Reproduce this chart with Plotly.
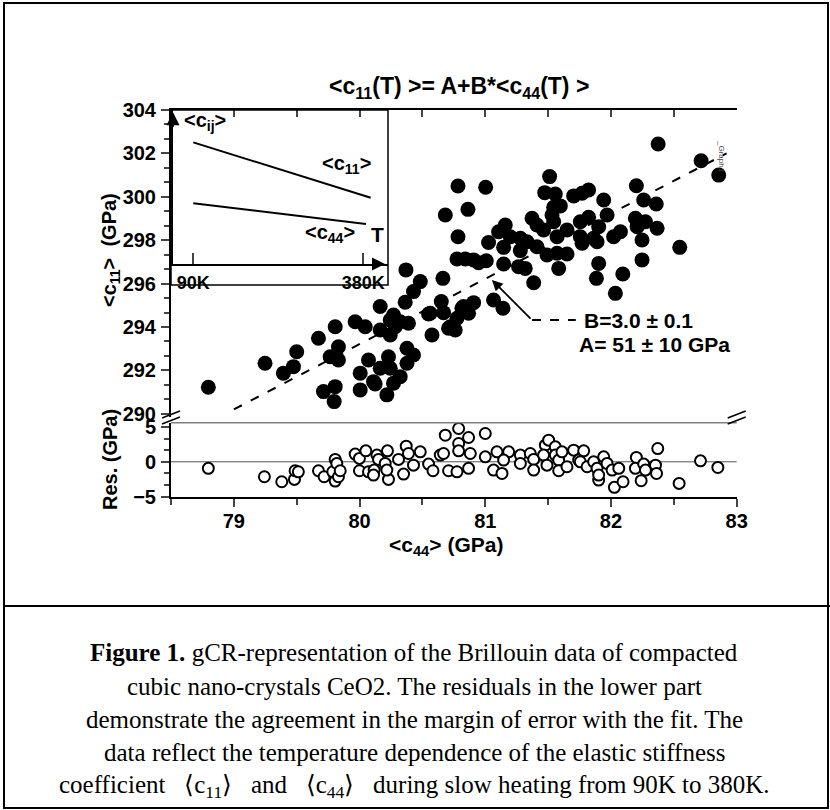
import plotly.graph_objects as go

W, H = 830, 810

# ---------------- data ----------------
c44_main = [82.375, 82.717, 82.857, 80.783, 81.003, 81.512, 82.202, 80.682, 80.862, 81.473,
            81.557, 81.703, 81.822, 81.770, 81.942, 82.260, 82.360, 80.783, 81.544, 81.597,
            81.531, 81.969, 81.544, 82.194, 82.274, 81.159, 81.372, 81.756, 81.822, 82.208,
            82.367, 81.106, 81.411, 81.464, 81.902, 82.075, 81.026, 81.199, 81.279, 81.332,
            81.571, 81.650, 81.756, 81.862, 82.021, 82.247, 81.770, 81.889, 81.146, 81.279,
            81.411, 81.491, 81.571, 81.650, 82.547, 80.775, 80.841, 80.907, 80.947, 81.008,
            81.146, 81.265, 81.318, 81.584, 81.902, 81.884, 82.247, 81.385, 82.094, 82.035,
            80.369, 80.663, 80.483, 80.429, 80.363, 80.650, 80.827, 80.907, 81.066, 81.141,
            80.270, 80.549, 80.668, 80.164,
            78.797, 79.248, 79.394, 79.474, 79.500, 79.673, 79.806, 79.766, 79.832, 79.832,
            79.713, 79.806, 79.798, 79.965, 80.045, 80.071, 80.005, 80.005, 80.111, 80.164,
            80.217, 80.244, 80.283, 80.244, 80.323, 80.389, 80.164, 80.230, 80.244, 80.377,
            80.429, 80.377, 80.323, 80.270, 80.576, 80.721, 80.775, 80.867, 80.761,
            80.814, 80.708, 80.124, 80.562]
c11_main = [302.43, 301.66, 301.00, 300.50, 300.44, 300.93, 300.51, 299.16, 299.42, 300.19,
            300.13, 300.04, 300.31, 300.16, 299.85, 299.85, 299.67, 298.16, 299.52, 299.58,
            299.16, 299.16, 298.85, 299.01, 298.85, 298.70, 299.01, 298.85, 299.06, 298.62,
            298.55, 298.39, 298.70, 298.47, 298.62, 298.39, 297.89, 298.16, 298.09, 297.93,
            298.16, 298.47, 298.16, 298.09, 298.16, 298.01, 297.86, 297.93, 297.67, 297.52,
            297.70, 297.32, 297.40, 297.36, 297.67, 297.13, 297.13, 297.09, 296.96, 297.05,
            296.90, 296.78, 296.70, 296.70, 296.93, 296.24, 297.09, 296.04, 296.44, 295.55,
            296.63, 296.24, 296.09, 295.63, 295.14, 295.17, 294.94, 295.12, 295.24, 294.86,
            294.55, 294.60, 294.66, 294.94,
            291.22, 292.33, 291.87, 292.17, 292.86, 293.48, 294.01, 292.63, 293.09, 292.48,
            291.02, 291.25, 290.56, 294.24, 294.01, 292.48, 291.87, 291.10, 291.48, 293.86,
            290.87, 294.32, 294.01, 293.63, 294.24, 294.17, 292.10, 292.63, 292.10, 293.02,
            292.71, 292.33, 291.71, 291.41, 293.63, 294.01, 294.40, 294.63, 293.86,
            294.86, 293.94, 291.37, 294.63]

c44_res = [78.797, 79.243, 79.381, 79.482, 79.487, 79.513, 79.673, 79.718, 79.787, 79.806,
           79.819, 79.806, 79.832, 79.846, 79.965, 79.999, 79.999, 80.050, 80.071, 80.116,
           80.111, 80.138, 80.151, 80.222, 80.204, 80.230, 80.217, 80.310, 80.371, 80.389,
           80.350, 80.429, 80.483, 80.549, 80.584, 80.642,
           80.668, 80.682, 80.708, 80.788, 80.788, 80.788, 80.775, 80.867, 80.881, 80.867,
           81.000, 81.000, 81.066, 81.133, 81.093, 81.186, 81.146, 81.279, 81.279, 81.358,
           81.385, 81.385, 81.478, 81.504, 81.464, 81.491, 81.557, 81.557, 81.584, 81.584,
           81.610, 81.650, 81.703, 81.743, 81.783, 81.756, 81.810, 81.862, 81.889, 81.902,
           81.902, 81.942, 81.969, 82.009, 82.062, 82.027, 82.096, 82.202, 82.194, 82.260,
           82.274, 82.240, 82.354, 82.362, 82.372, 82.542, 82.712, 82.850]
res_vals = [-0.94, -2.14, -2.86, -2.52, -1.28, -1.43, -1.28, -2.14, -1.43, 0.34,
            -0.24, -2.76, -2.14, -1.28, 1.10, 0.48, -1.28, 1.57, -1.43, -1.19,
            -1.90, 0.96, 0.34, 1.57, -0.24, -2.52, -1.19, 0.34, 2.24, 1.19,
            -1.76, -0.48, 1.43, -0.33, -1.28, 0.96,
            1.19, 3.81, -1.28, 4.77, 2.62, 1.57, -1.43, 3.48, 1.19, -0.94,
            4.05, 0.71, -1.19, -1.67, 1.43, 1.43, 0.24, 0.96, -0.24, 1.19,
            0.34, -1.19, 2.38, 3.10, 0.96, -0.48, 2.14, 0.96, 0.24, -1.28,
            1.43, -0.71, 1.67, 0.24, 1.57, 0.00, -0.71, 0.00, -0.94, -2.62,
            -1.90, 0.71, -0.24, -1.19, -0.94, -3.66, -2.86, 0.62, -0.94, -0.33,
            -1.19, -2.71, -0.48, -1.67, 1.90, -3.10, 0.14, -0.81]

fit_c44 = [79.0, 82.92]
fit_c11 = [290.2, 302.0]

inset_T = [90, 380]
inset_T_c11 = [90, 392.6]
inset_c11 = [0.790, 0.430]
inset_T_c44 = [90, 384.6]
inset_c44 = [0.394, 0.260]

x_range = [78.5, 83]
x_ticks = [79, 80, 81, 82, 83]
y_main_range = [289.85, 304]
y_main_ticks = [290, 292, 294, 296, 298, 300, 302, 304]
y_res_range = [-5, 5.6]
y_res_ticks = [-5, 0, 5]

# ---------------- layout helpers ----------------
def px(x):
    return x / W

def py(y):
    return 1 - y / H

FONT = "Liberation Sans, Arial, sans-serif"
SERIF = "Liberation Serif, Times New Roman, serif"
tickf = dict(family=FONT, size=20, color="black", weight="bold")

xd = [px(171), px(736.7)]
yd_main = [py(417), py(110)]
yd_res = [py(496.7), py(422.7)]

fig = go.Figure()

fig.add_trace(go.Scatter(x=c44_main, y=c11_main, mode="markers", xaxis="x", yaxis="y",
                         marker=dict(size=15, color="black", line=dict(width=0)),
                         showlegend=False, hoverinfo="skip"))
fig.add_trace(go.Scatter(x=fit_c44, y=fit_c11, mode="lines", xaxis="x", yaxis="y",
                         line=dict(color="black", width=2, dash="9px,10px"),
                         showlegend=False, hoverinfo="skip"))
fig.add_trace(go.Scatter(x=c44_res, y=res_vals, mode="markers", xaxis="x2", yaxis="y2",
                         marker=dict(size=11, color="white", line=dict(width=2, color="black")),
                         showlegend=False, hoverinfo="skip"))
fig.add_trace(go.Scatter(x=inset_T_c11, y=inset_c11, mode="lines", xaxis="x5", yaxis="y5",
                         line=dict(color="black", width=2), showlegend=False, hoverinfo="skip"))
fig.add_trace(go.Scatter(x=inset_T_c44, y=inset_c44, mode="lines", xaxis="x5", yaxis="y5",
                         line=dict(color="black", width=2), showlegend=False, hoverinfo="skip"))

common = dict(showgrid=False, zeroline=False, linecolor="black", automargin=False)

fig.update_layout(
    width=W, height=H,
    margin=dict(l=0, r=0, t=0, b=0, pad=0, autoexpand=False),
    paper_bgcolor="white", plot_bgcolor="rgba(0,0,0,0)",
    xaxis=dict(domain=xd, range=x_range, anchor="y", side="top", showline=True, linewidth=1.5,
               ticks="inside", ticklen=7, tickwidth=1.5, tickvals=x_ticks, showticklabels=False,
               minor=dict(ticks="inside", dtick=0.5, tick0=78.5, ticklen=7, tickwidth=1.5),
               **common),
    yaxis=dict(domain=yd_main, range=y_main_range, anchor="x", side="left", showline=True,
               linewidth=2, ticks="outside", ticklen=8, tickwidth=1.5, tickvals=y_main_ticks,
               tickfont=tickf, ticklabelstandoff=1,
               minor=dict(ticks="outside", dtick=2/3, tick0=290, ticklen=5, tickwidth=1.5),
               **common),
    yaxis3=dict(domain=yd_main, range=y_main_range, overlaying="y", anchor="x", side="right",
                showline=True, linewidth=1.5, ticks="inside", ticklen=8, tickwidth=1.5,
                tickvals=y_main_ticks, showticklabels=False,
                minor=dict(ticks="inside", dtick=2/3, tick0=290, ticklen=5, tickwidth=1.5),
                **common),
    xaxis2=dict(domain=xd, range=x_range, anchor="y2", side="bottom", showline=True, linewidth=2,
                ticks="outside", ticklen=8, tickwidth=1.5, tickvals=x_ticks, tickfont=tickf,
                ticklabelstandoff=-3,
                minor=dict(ticks="outside", dtick=0.5, tick0=78.5, ticklen=6, tickwidth=1.5),
                **common),
    yaxis2=dict(domain=yd_res, range=y_res_range, anchor="x2", side="left", showline=True,
                linewidth=2, ticks="outside", ticklen=8, tickwidth=1.5, tickvals=y_res_ticks,
                tickfont=tickf, ticklabelstandoff=1,
                minor=dict(ticks="outside", dtick=5/3, tick0=-5, ticklen=5, tickwidth=1.5),
                **common),
    yaxis4=dict(domain=yd_res, range=y_res_range, overlaying="y2", anchor="x2", side="right",
                showline=True, linewidth=1.5, ticks="inside", ticklen=8, tickwidth=1.5,
                tickvals=y_res_ticks, showticklabels=False,
                minor=dict(ticks="inside", dtick=5/3, tick0=-5, ticklen=5, tickwidth=1.5),
                **common),
    xaxis5=dict(domain=[px(173), px(388)], range=[55.4, 422.1], anchor="y5", showline=True,
                linewidth=2, ticks="inside", ticklen=11, tickwidth=1.5, tickvals=inset_T,
                ticktext=["90K", "380K"], ticklabelstandoff=1,
                tickfont=dict(family=FONT, size=18, color="black", weight="bold"),
                **common),
    yaxis5=dict(domain=[py(264), py(110)], range=[0, 1], anchor="x5", showline=True, linewidth=2,
                showticklabels=False, ticks="", **common),
)

shapes = []
shapes.append(dict(type="rect", xref="paper", yref="paper", x0=px(171), x1=px(388), y0=py(285), y1=py(110),
                   line=dict(color="black", width=1.5), layer="above"))
shapes.append(dict(type="line", xref="paper", yref="paper", x0=xd[0], x1=xd[1], y0=yd_res[1], y1=yd_res[1],
                   line=dict(color="#808080", width=1.5)))
shapes.append(dict(type="line", xref="x2 domain", yref="y2", x0=0, x1=1, y0=0, y1=0,
                   line=dict(color="#555555", width=1), layer="below"))
for xc in (171, 736.7):
    for dy in (0, 6):
        shapes.append(dict(type="line", xref="paper", yref="paper",
                           x0=px(xc - 9), y0=py(418 + dy), x1=px(xc + 9), y1=py(411 + dy),
                           line=dict(color="black", width=1.5)))
shapes.append(dict(type="line", xref="x", yref="y", x0=81.372, x1=81.72, y0=294.32, y1=294.32,
                   line=dict(color="black", width=2, dash="9px,9px")))
shapes.append(dict(type="rect", xref="paper", yref="paper", x0=px(4), x1=px(828), y0=py(808), y1=py(3),
                   line=dict(color="black", width=2)))
shapes.append(dict(type="line", xref="paper", yref="paper", x0=px(4), x1=px(830), y0=py(606), y1=py(606),
                   line=dict(color="black", width=2)))
fig.update_layout(shapes=shapes)

ann = []
f20 = dict(family=FONT, size=20, color="black", weight="bold")
f21 = dict(family=FONT, size=21, color="black", weight="bold")
ann.append(dict(text="&lt;c<sub>11</sub>(T) &gt;= A+B*&lt;c<sub>44</sub>(T) &gt;", xref="paper", yref="paper",
                x=px(459), y=py(88), showarrow=False,
                font=dict(family=FONT, size=23, color="black", weight="bold"),
                xanchor="center", yanchor="middle"))
ann.append(dict(text="&lt;c<sub>44</sub>&gt; (GPa)", xref="paper", yref="paper", x=px(446), y=py(546),
                showarrow=False, font=f21, xanchor="center", yanchor="middle"))
ann.append(dict(text="&lt;c<sub>11</sub>&gt;  (GPa)", xref="paper", yref="paper", x=px(110), y=py(250),
                showarrow=False, font=f20, textangle=-90, xanchor="center", yanchor="middle"))
ann.append(dict(text="Res. (GPa)", xref="paper", yref="paper", x=px(110), y=py(460),
                showarrow=False, font=f20, textangle=-90, xanchor="center", yanchor="middle"))
ann.append(dict(text="B=3.0 ± 0.1", xref="x", yref="y", x=81.77, y=294.32, showarrow=False,
                font=f21, xanchor="left", yanchor="middle"))
ann.append(dict(text="A= 51 ± 10 GPa", xref="x", yref="y", x=81.73, y=293.17, showarrow=False,
                font=f21, xanchor="left", yanchor="middle"))
ann.append(dict(text="", xref="x", yref="y", x=81.053, y=296.17, ax=81.372, ay=294.32, axref="x", ayref="y",
                showarrow=True, arrowhead=2, arrowsize=1.2, arrowwidth=1.8, arrowcolor="black"))
ann.append(dict(text="&lt;c<sub>ij</sub>&gt;", xref="x5", yref="y5", x=110, y=0.924, showarrow=False, font=f20))
ann.append(dict(text="&lt;c<sub>11</sub>&gt;", xref="x5", yref="y5", x=351.7, y=0.643, showarrow=False, font=f20))
ann.append(dict(text="&lt;c<sub>44</sub>&gt;", xref="x5", yref="y5", x=323.2, y=0.201, showarrow=False, font=f20))
ann.append(dict(text="T", xref="x5", yref="y5", x=405, y=0.19, showarrow=False, font=f21))
ann.append(dict(text="", xref="x5", yref="y5", x=417, y=0, ax=-14, ay=0, showarrow=True,
                arrowhead=2, arrowsize=1.3, arrowwidth=2, arrowcolor="black"))
ann.append(dict(text="", xref="x5", yref="y5", x=55.4, y=0.985, ax=0, ay=16, showarrow=True,
                arrowhead=2, arrowsize=1.3, arrowwidth=2, arrowcolor="black"))
ann.append(dict(text="_Graph1", xref="paper", yref="paper", x=px(728), y=py(138), showarrow=False,
                textangle=90, font=dict(family=FONT, size=8, color="#444")))

nb = "\u00a0"
sp = nb * 3
cap = [
    "<b>Figure 1.</b> gCR-representation of the Brillouin data of compacted",
    "cubic nano-crystals CeO2. The residuals in the lower part",
    "demonstrate the agreement in the margin of error with the fit. The",
    "data reflect the temperature dependence of the elastic stiffness",
    "coefficient" + sp + "⟨c<sub>11</sub>⟩" + sp + "and" + sp + "⟨c<sub>44</sub>⟩" + sp
    + "during slow heating from 90K to 380K.",
]
cap_y = [652, 686, 719, 752, 786]
for t, yy in zip(cap, cap_y):
    ann.append(dict(text=t, xref="paper", yref="paper", x=px(414), y=py(yy), showarrow=False,
                    font=dict(family=SERIF, size=25, color="black"), xanchor="center", yanchor="middle"))

fig.update_layout(annotations=ann)
fig.write_html("out.html", config={"displayModeBar": False},
               post_script="document.body.style.margin='0px';document.body.style.overflow='hidden';")
